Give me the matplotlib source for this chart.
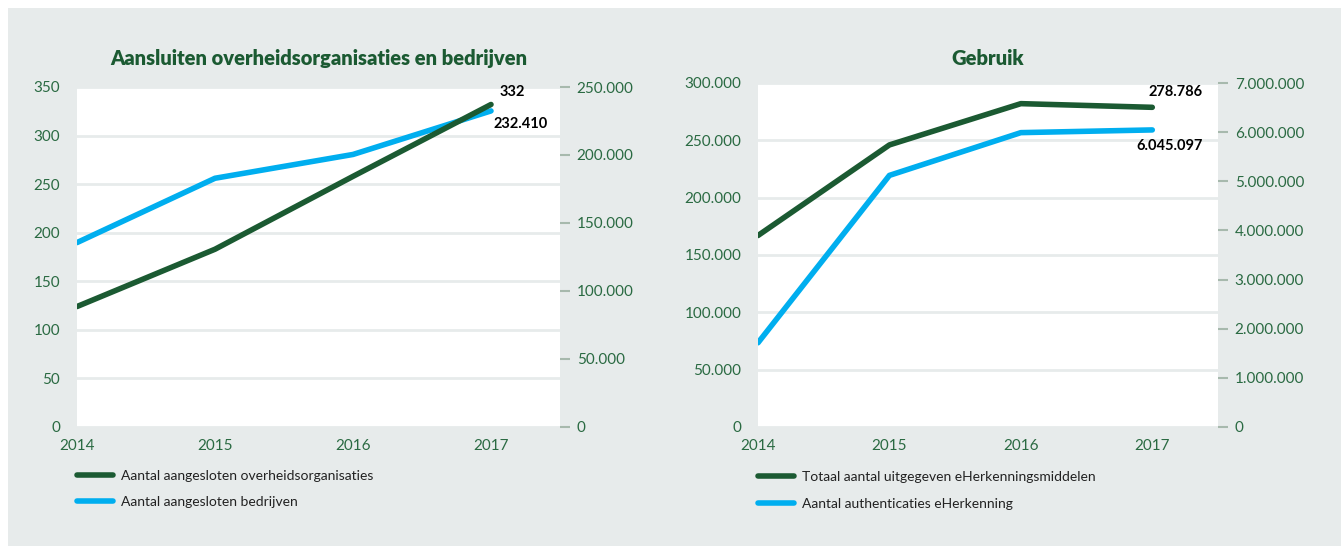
import matplotlib.pyplot as plt
from matplotlib.ticker import FuncFormatter, MultipleLocator
from matplotlib.patches import Rectangle

plt.rcParams['font.family'] = ['Lato', 'DejaVu Sans']

years = [2014, 2015, 2016, 2017]

# left chart
overheid = [124, 183, 258, 332]
bedrijven = [135600, 182900, 200400, 232410]
# right chart
middelen = [167000, 246000, 282000, 278786]
authenticaties = [1714000, 5120000, 5990000, 6045097]

GREEN = '#1b5a32'
BLUE = '#00aeef'
TXT = '#2a6a42'
BG = '#e7ebeb'
TICK = '#a7b9ad'

W, H = 1341, 546
fig = plt.figure(figsize=(W / 100, H / 100), dpi=100)
fig.patches.append(Rectangle((8 / W, 0), 1, 1 - 8 / H, transform=fig.transFigure,
                             facecolor=BG, edgecolor='none', zorder=-10))


def dots(v, pos=None):
    return f'{int(round(v)):,}'.replace(',', '.')


def box(x0, y0, x1, y1):
    return [x0 / W, 1 - y1 / H, (x1 - x0) / W, (y1 - y0) / H]


def setup(ax, top, step, rtop, rstep):
    ax.set_facecolor('white')
    ax.set_xlim(2014, 2017.5)
    ax.set_ylim(0, top)
    ax.yaxis.set_major_locator(MultipleLocator(step))
    ax.yaxis.set_major_formatter(FuncFormatter(dots))
    ax.grid(axis='y', color=BG, linewidth=2, zorder=0)
    ax.set_axisbelow(True)
    for s in ax.spines.values():
        s.set_visible(False)
    ax.set_xticks(years)
    ax.tick_params(axis='x', length=0, pad=9, labelsize=11, labelcolor=TXT)
    ax.tick_params(axis='y', length=0, pad=12, labelsize=11, labelcolor=TXT)
    ax2 = ax.twinx()
    ax2.set_ylim(0, rtop)
    ax2.yaxis.set_major_locator(MultipleLocator(rstep))
    ax2.yaxis.set_major_formatter(FuncFormatter(dots))
    ax2.patch.set_visible(False)
    for s in ax2.spines.values():
        s.set_visible(False)
    ax2.tick_params(axis='y', direction='out', length=7, width=1.5, color=TICK,
                    pad=5, labelsize=11, labelcolor=TXT)
    return ax2


lw = 4
lab = dict(ha='center', va='center', fontsize=10.5, fontweight='bold', color='black')
leg = dict(loc='upper left', frameon=False, fontsize=10, borderpad=0, borderaxespad=0,
           handlelength=2.6, handletextpad=0.6, labelspacing=1.05, labelcolor='#222222')

# ---- left chart
ax1 = fig.add_axes(box(77, 87, 560, 427))
ax1r = setup(ax1, 350, 50, 250000, 50000)
l2, = ax1.plot(years, bedrijven, color=BLUE, lw=lw, solid_capstyle='round', zorder=2,
               transform=ax1r.transData)
l1, = ax1.plot(years, overheid, color=GREEN, lw=lw, solid_capstyle='round', zorder=3)
ax1.set_title('Aansluiten overheidsorganisaties en bedrijven', fontsize=14.5,
              fontweight='heavy', color=GREEN, pad=16)
ax1.annotate(dots(overheid[-1]), (2017, overheid[-1]), xytext=(21, 12),
             textcoords='offset pixels', **lab)
ax1.annotate(dots(bedrijven[-1]), (2017, bedrijven[-1]), xycoords=ax1r.transData,
             xytext=(30, -13), textcoords='offset pixels', **lab)
ax1.legend([l1, l2], ['Aantal aangesloten overheidsorganisaties', 'Aantal aangesloten bedrijven'],
           bbox_to_anchor=(0, -0.125), **leg)

# ---- right chart
ax2 = fig.add_axes(box(758, 83, 1218, 427))
ax2r = setup(ax2, 300000, 50000, 7000000, 1000000)
m2, = ax2.plot(years, authenticaties, color=BLUE, lw=lw, solid_capstyle='round', zorder=2,
               transform=ax2r.transData)
m1, = ax2.plot(years, middelen, color=GREEN, lw=lw, solid_capstyle='round', zorder=3)
ax2.set_title('Gebruik', fontsize=14.5, fontweight='heavy', color=GREEN, pad=13)
ax2.annotate(dots(middelen[-1]), (2017, middelen[-1]), xytext=(23, 15),
             textcoords='offset pixels', **lab)
ax2.annotate(dots(authenticaties[-1]), (2017, authenticaties[-1]), xycoords=ax2r.transData,
             xytext=(17, -16), textcoords='offset pixels', **lab)
ax2.legend([m1, m2], ['Totaal aantal uitgegeven eHerkenningsmiddelen', 'Aantal authenticaties eHerkenning'],
           bbox_to_anchor=(0, -0.128), **leg)

fig.savefig('out.png', dpi=100, facecolor='white')
